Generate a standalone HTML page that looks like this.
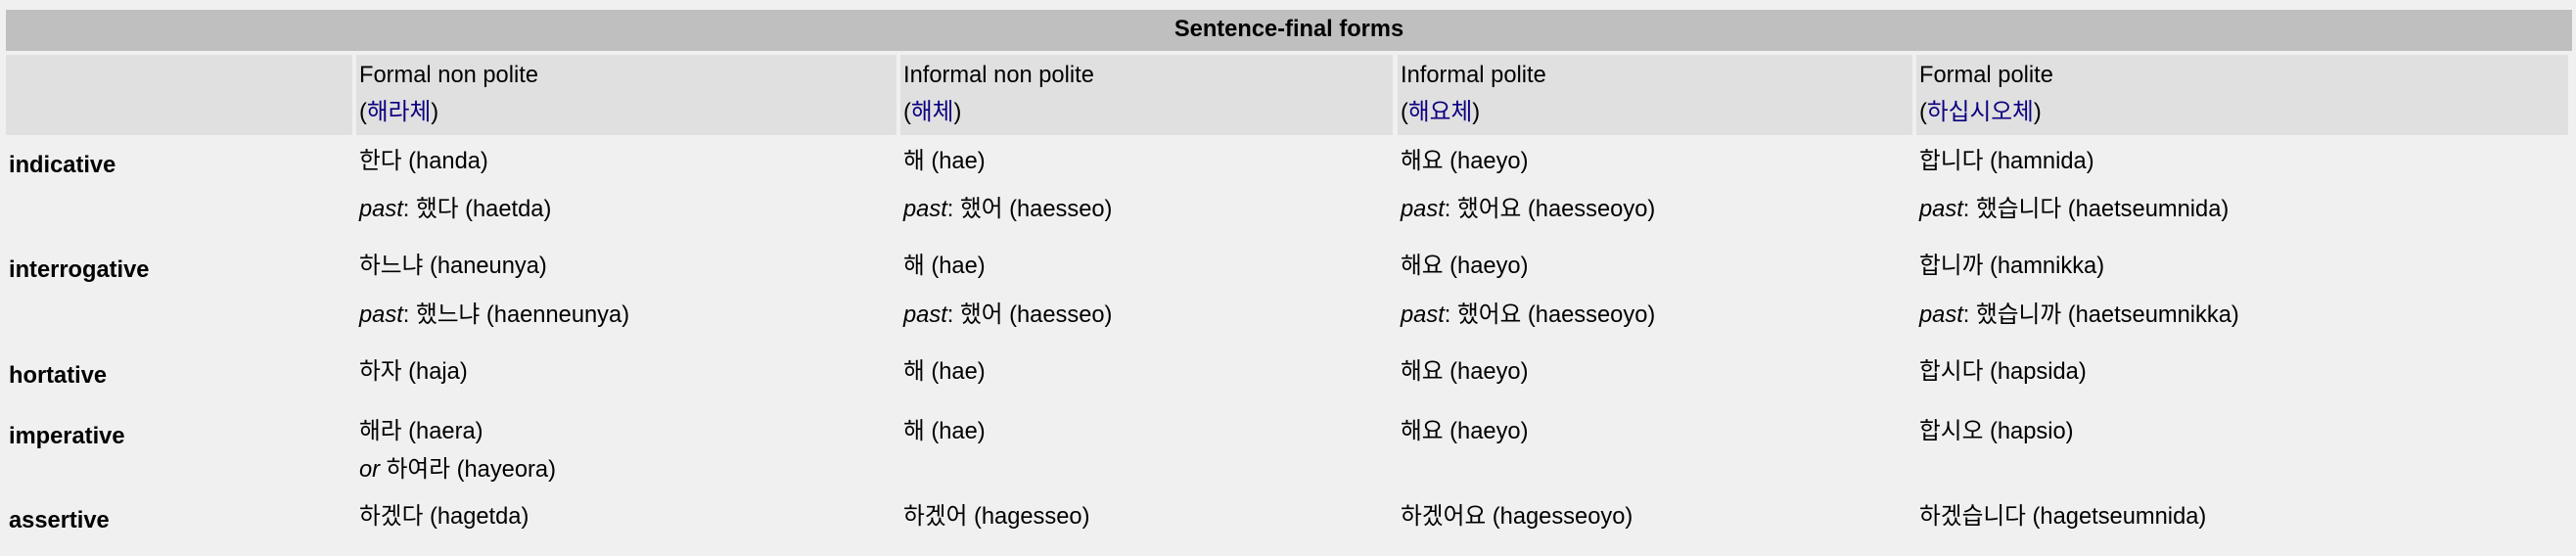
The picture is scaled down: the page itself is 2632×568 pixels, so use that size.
<!DOCTYPE html>
<html><head><meta charset="utf-8"><style>
body{margin:0;width:2632px;height:568px;background:#f0f0f0;position:relative;overflow:hidden;font-family:"Liberation Sans","Noto Sans CJK KR",sans-serif;font-size:23.7px;color:#000}
div.b{position:absolute}
.t{position:absolute;line-height:30px;white-space:nowrap}
.h{font-weight:bold}
a{color:#0b0080;text-decoration:none}
</style></head><body>
<div class="b" style="left:6px;top:10px;width:2622px;height:42px;background:#bfbfbf"></div>
<div class="t h" style="left:6px;width:2622px;text-align:center;top:15px">Sentence-final forms</div>
<div class="b" style="left:6px;top:56px;width:354px;height:82px;background:#e0e0e0"></div>
<div class="b" style="left:364px;top:56px;width:552px;height:82px;background:#e0e0e0"></div>
<div class="b" style="left:920px;top:56px;width:503px;height:82px;background:#e0e0e0"></div>
<div class="b" style="left:1428px;top:56px;width:526px;height:82px;background:#e0e0e0"></div>
<div class="b" style="left:1958px;top:56px;width:666px;height:82px;background:#e0e0e0"></div>

<div class="t" style="left:367px;top:62px">Formal non polite</div>
<div class="t" style="left:367px;top:100px">(<a href="#">해라체</a>)</div>
<div class="t" style="left:923px;top:62px">Informal non polite</div>
<div class="t" style="left:923px;top:100px">(<a href="#">해체</a>)</div>
<div class="t" style="left:1431px;top:62px">Informal polite</div>
<div class="t" style="left:1431px;top:100px">(<a href="#">해요체</a>)</div>
<div class="t" style="left:1961px;top:62px">Formal polite</div>
<div class="t" style="left:1961px;top:100px">(<a href="#">하십시오체</a>)</div>

<div class="t h" style="left:9px;top:154px">indicative</div>
<div class="t h" style="left:9px;top:261px">interrogative</div>
<div class="t h" style="left:9px;top:369px">hortative</div>
<div class="t h" style="left:9px;top:431px">imperative</div>
<div class="t h" style="left:9px;top:517px">assertive</div>

<div class="t" style="left:367px;top:150px">한다 (handa)</div>
<div class="t" style="left:367px;top:199px"><i>past</i>: 했다 (haetda)</div>
<div class="t" style="left:367px;top:257px">하느냐 (haneunya)</div>
<div class="t" style="left:367px;top:307px"><i>past</i>: 했느냐 (haenneunya)</div>
<div class="t" style="left:367px;top:365px">하자 (haja)</div>
<div class="t" style="left:367px;top:426px">해라 (haera)</div>
<div class="t" style="left:367px;top:465px"><i>or</i> 하여라 (hayeora)</div>
<div class="t" style="left:367px;top:513px">하겠다 (hagetda)</div>

<div class="t" style="left:923px;top:150px">해 (hae)</div>
<div class="t" style="left:923px;top:199px"><i>past</i>: 했어 (haesseo)</div>
<div class="t" style="left:923px;top:257px">해 (hae)</div>
<div class="t" style="left:923px;top:307px"><i>past</i>: 했어 (haesseo)</div>
<div class="t" style="left:923px;top:365px">해 (hae)</div>
<div class="t" style="left:923px;top:426px">해 (hae)</div>
<div class="t" style="left:923px;top:513px">하겠어 (hagesseo)</div>

<div class="t" style="left:1431px;top:150px">해요 (haeyo)</div>
<div class="t" style="left:1431px;top:199px"><i>past</i>: 했어요 (haesseoyo)</div>
<div class="t" style="left:1431px;top:257px">해요 (haeyo)</div>
<div class="t" style="left:1431px;top:307px"><i>past</i>: 했어요 (haesseoyo)</div>
<div class="t" style="left:1431px;top:365px">해요 (haeyo)</div>
<div class="t" style="left:1431px;top:426px">해요 (haeyo)</div>
<div class="t" style="left:1431px;top:513px">하겠어요 (hagesseoyo)</div>

<div class="t" style="left:1961px;top:150px">합니다 (hamnida)</div>
<div class="t" style="left:1961px;top:199px"><i>past</i>: 했습니다 (haetseumnida)</div>
<div class="t" style="left:1961px;top:257px">합니까 (hamnikka)</div>
<div class="t" style="left:1961px;top:307px"><i>past</i>: 했습니까 (haetseumnikka)</div>
<div class="t" style="left:1961px;top:365px">합시다 (hapsida)</div>
<div class="t" style="left:1961px;top:426px">합시오 (hapsio)</div>
<div class="t" style="left:1961px;top:513px">하겠습니다 (hagetseumnida)</div>
</body></html>
